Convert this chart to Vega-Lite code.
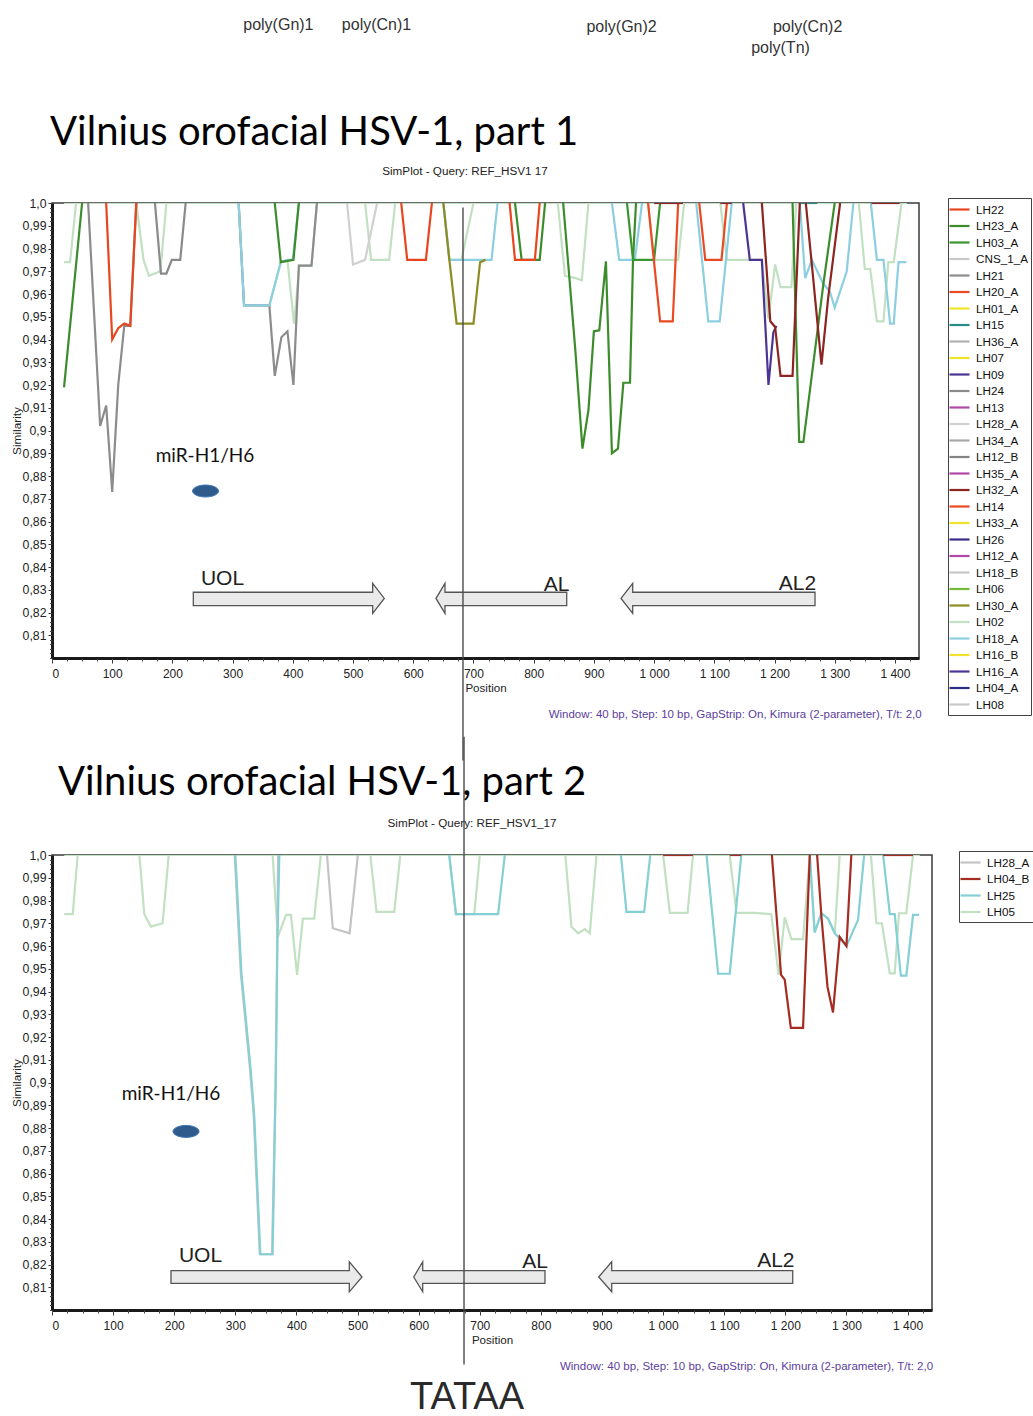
{
  "$schema": "https://vega.github.io/schema/vega-lite/v6.json",
  "background": "white",
  "padding": {"left": 10, "top": 16, "right": 0, "bottom": 0},
  "config": {
    "font": "Liberation Sans, Arial, sans-serif",
    "view": {"stroke": "#3a3a3a", "strokeWidth": 1.5},
    "legend": {
      "orient": "none",
      "title": null,
      "symbolType": "M-1.43,0H1.43",
      "symbolSize": 196,
      "symbolStrokeWidth": 2.2,
      "symbolFillColor": "transparent",
      "symbolLimit": 0,
      "labelFont": "Liberation Sans, Arial, sans-serif",
      "labelFontSize": 11.7,
      "labelColor": "#111",
      "labelOffset": 8,
      "rowPadding": 0.5,
      "padding": 3,
      "strokeColor": "#444",
      "fillColor": "white",
      "labelLimit": 200
    }
  },
  "datasets": {
    "l1": [
      {"s": "LH02", "g": 0, "x": 20, "y": 1}, {"s": "LH02", "g": 0, "x": 1420, "y": 1},
      {"s": "LH02", "g": 1, "x": 20, "y": 0.974}, {"s": "LH02", "g": 1, "x": 30, "y": 0.974}, {"s": "LH02", "g": 1, "x": 40, "y": 1},
      {"s": "LH02", "g": 2, "x": 140, "y": 1}, {"s": "LH02", "g": 2, "x": 152, "y": 0.975}, {"s": "LH02", "g": 2, "x": 161, "y": 0.968}, {"s": "LH02", "g": 2, "x": 180, "y": 0.97}, {"s": "LH02", "g": 2, "x": 190, "y": 1},
      {"s": "LH02", "g": 3, "x": 310, "y": 1}, {"s": "LH02", "g": 3, "x": 319, "y": 0.955}, {"s": "LH02", "g": 3, "x": 361, "y": 0.955}, {"s": "LH02", "g": 3, "x": 380, "y": 0.974}, {"s": "LH02", "g": 3, "x": 391, "y": 0.975}, {"s": "LH02", "g": 3, "x": 402, "y": 0.947}, {"s": "LH02", "g": 3, "x": 411, "y": 0.9725}, {"s": "LH02", "g": 3, "x": 431, "y": 0.9725}, {"s": "LH02", "g": 3, "x": 440, "y": 1},
      {"s": "LH02", "g": 4, "x": 520, "y": 1}, {"s": "LH02", "g": 4, "x": 530, "y": 0.975}, {"s": "LH02", "g": 4, "x": 560, "y": 0.975}, {"s": "LH02", "g": 4, "x": 570, "y": 1},
      {"s": "LH02", "g": 5, "x": 650, "y": 1}, {"s": "LH02", "g": 5, "x": 660, "y": 0.975}, {"s": "LH02", "g": 5, "x": 680, "y": 0.975}, {"s": "LH02", "g": 5, "x": 700, "y": 1},
      {"s": "LH02", "g": 6, "x": 840, "y": 1}, {"s": "LH02", "g": 6, "x": 852, "y": 0.968}, {"s": "LH02", "g": 6, "x": 869, "y": 0.967}, {"s": "LH02", "g": 6, "x": 880, "y": 0.966}, {"s": "LH02", "g": 6, "x": 891, "y": 1},
      {"s": "LH02", "g": 7, "x": 990, "y": 1}, {"s": "LH02", "g": 7, "x": 1000, "y": 0.975}, {"s": "LH02", "g": 7, "x": 1040, "y": 0.975}, {"s": "LH02", "g": 7, "x": 1050, "y": 1},
      {"s": "LH02", "g": 8, "x": 1110, "y": 1}, {"s": "LH02", "g": 8, "x": 1121, "y": 0.975}, {"s": "LH02", "g": 8, "x": 1179, "y": 0.975}, {"s": "LH02", "g": 8, "x": 1190, "y": 0.949}, {"s": "LH02", "g": 8, "x": 1201, "y": 0.973}, {"s": "LH02", "g": 8, "x": 1210, "y": 0.963}, {"s": "LH02", "g": 8, "x": 1228, "y": 0.963}, {"s": "LH02", "g": 8, "x": 1236, "y": 1},
      {"s": "LH02", "g": 9, "x": 1340, "y": 1}, {"s": "LH02", "g": 9, "x": 1350, "y": 0.971}, {"s": "LH02", "g": 9, "x": 1359, "y": 0.971}, {"s": "LH02", "g": 9, "x": 1370, "y": 0.948}, {"s": "LH02", "g": 9, "x": 1381, "y": 0.948}, {"s": "LH02", "g": 9, "x": 1389, "y": 0.974}, {"s": "LH02", "g": 9, "x": 1398, "y": 0.974}, {"s": "LH02", "g": 9, "x": 1411, "y": 1},
      {"s": "LH28_A", "g": 1, "x": 490, "y": 1}, {"s": "LH28_A", "g": 1, "x": 500, "y": 0.973}, {"s": "LH28_A", "g": 1, "x": 520, "y": 0.975}, {"s": "LH28_A", "g": 1, "x": 540, "y": 1},
      {"s": "LH21", "g": 1, "x": 60, "y": 1}, {"s": "LH21", "g": 1, "x": 80, "y": 0.902}, {"s": "LH21", "g": 1, "x": 90, "y": 0.911}, {"s": "LH21", "g": 1, "x": 100, "y": 0.873}, {"s": "LH21", "g": 1, "x": 110, "y": 0.92}, {"s": "LH21", "g": 1, "x": 120, "y": 0.946}, {"s": "LH21", "g": 1, "x": 130, "y": 0.946}, {"s": "LH21", "g": 1, "x": 140, "y": 1},
      {"s": "LH21", "g": 2, "x": 310, "y": 1}, {"s": "LH21", "g": 2, "x": 319, "y": 0.955}, {"s": "LH21", "g": 2, "x": 361, "y": 0.955}, {"s": "LH21", "g": 2, "x": 370, "y": 0.924}, {"s": "LH21", "g": 2, "x": 381, "y": 0.941}, {"s": "LH21", "g": 2, "x": 391, "y": 0.9436}, {"s": "LH21", "g": 2, "x": 401, "y": 0.92}, {"s": "LH21", "g": 2, "x": 410, "y": 0.9725}, {"s": "LH21", "g": 2, "x": 431, "y": 0.9725}, {"s": "LH21", "g": 2, "x": 440, "y": 1},
      {"s": "LH24", "g": 1, "x": 171, "y": 1}, {"s": "LH24", "g": 1, "x": 181, "y": 0.969}, {"s": "LH24", "g": 1, "x": 190, "y": 0.969}, {"s": "LH24", "g": 1, "x": 199, "y": 0.975}, {"s": "LH24", "g": 1, "x": 213, "y": 0.975}, {"s": "LH24", "g": 1, "x": 222, "y": 1},
      {"s": "LH18_A", "g": 1, "x": 310, "y": 1}, {"s": "LH18_A", "g": 1, "x": 319, "y": 0.955}, {"s": "LH18_A", "g": 1, "x": 361, "y": 0.955}, {"s": "LH18_A", "g": 1, "x": 380, "y": 0.974}, {"s": "LH18_A", "g": 1, "x": 391, "y": 0.975}, {"s": "LH18_A", "g": 1, "x": 400, "y": 0.975}, {"s": "LH18_A", "g": 1, "x": 410, "y": 1},
      {"s": "LH18_A", "g": 2, "x": 650, "y": 1}, {"s": "LH18_A", "g": 2, "x": 660, "y": 0.975}, {"s": "LH18_A", "g": 2, "x": 730, "y": 0.975}, {"s": "LH18_A", "g": 2, "x": 740, "y": 1},
      {"s": "LH18_A", "g": 3, "x": 930, "y": 1}, {"s": "LH18_A", "g": 3, "x": 942, "y": 0.975}, {"s": "LH18_A", "g": 3, "x": 968, "y": 0.975}, {"s": "LH18_A", "g": 3, "x": 980, "y": 1},
      {"s": "LH18_A", "g": 4, "x": 1070, "y": 1}, {"s": "LH18_A", "g": 4, "x": 1090, "y": 0.948}, {"s": "LH18_A", "g": 4, "x": 1109, "y": 0.948}, {"s": "LH18_A", "g": 4, "x": 1129, "y": 1},
      {"s": "LH18_A", "g": 5, "x": 1242, "y": 1}, {"s": "LH18_A", "g": 5, "x": 1251, "y": 0.967}, {"s": "LH18_A", "g": 5, "x": 1262, "y": 0.975}, {"s": "LH18_A", "g": 5, "x": 1280, "y": 0.965}, {"s": "LH18_A", "g": 5, "x": 1292, "y": 0.961}, {"s": "LH18_A", "g": 5, "x": 1300, "y": 0.954}, {"s": "LH18_A", "g": 5, "x": 1320, "y": 0.97}, {"s": "LH18_A", "g": 5, "x": 1331, "y": 1},
      {"s": "LH18_A", "g": 6, "x": 1360, "y": 1}, {"s": "LH18_A", "g": 6, "x": 1370, "y": 0.975}, {"s": "LH18_A", "g": 6, "x": 1381, "y": 0.975}, {"s": "LH18_A", "g": 6, "x": 1392, "y": 0.947}, {"s": "LH18_A", "g": 6, "x": 1398, "y": 0.947}, {"s": "LH18_A", "g": 6, "x": 1406, "y": 0.974}, {"s": "LH18_A", "g": 6, "x": 1419, "y": 0.974},
      {"s": "LH30_A", "g": 1, "x": 650, "y": 1}, {"s": "LH30_A", "g": 1, "x": 660, "y": 0.975}, {"s": "LH30_A", "g": 1, "x": 672, "y": 0.947}, {"s": "LH30_A", "g": 1, "x": 700, "y": 0.947}, {"s": "LH30_A", "g": 1, "x": 711, "y": 0.974}, {"s": "LH30_A", "g": 1, "x": 720, "y": 0.975},
      {"s": "LH23_A", "g": 1, "x": 20, "y": 0.919}, {"s": "LH23_A", "g": 1, "x": 50, "y": 1},
      {"s": "LH23_A", "g": 2, "x": 370, "y": 1}, {"s": "LH23_A", "g": 2, "x": 380, "y": 0.974}, {"s": "LH23_A", "g": 2, "x": 401, "y": 0.975}, {"s": "LH23_A", "g": 2, "x": 410, "y": 1},
      {"s": "LH23_A", "g": 3, "x": 769, "y": 1}, {"s": "LH23_A", "g": 3, "x": 780, "y": 0.975}, {"s": "LH23_A", "g": 3, "x": 810, "y": 0.975}, {"s": "LH23_A", "g": 3, "x": 819, "y": 1},
      {"s": "LH23_A", "g": 4, "x": 849, "y": 1}, {"s": "LH23_A", "g": 4, "x": 869, "y": 0.936}, {"s": "LH23_A", "g": 4, "x": 881, "y": 0.892}, {"s": "LH23_A", "g": 4, "x": 891, "y": 0.909}, {"s": "LH23_A", "g": 4, "x": 900, "y": 0.9436}, {"s": "LH23_A", "g": 4, "x": 909, "y": 0.944}, {"s": "LH23_A", "g": 4, "x": 920, "y": 0.9744}, {"s": "LH23_A", "g": 4, "x": 930, "y": 0.89}, {"s": "LH23_A", "g": 4, "x": 940, "y": 0.892}, {"s": "LH23_A", "g": 4, "x": 949, "y": 0.921}, {"s": "LH23_A", "g": 4, "x": 960, "y": 0.921}, {"s": "LH23_A", "g": 4, "x": 965, "y": 0.975}, {"s": "LH23_A", "g": 4, "x": 970, "y": 1},
      {"s": "LH23_A", "g": 5, "x": 1230, "y": 1}, {"s": "LH23_A", "g": 5, "x": 1241, "y": 0.895}, {"s": "LH23_A", "g": 5, "x": 1248, "y": 0.895}, {"s": "LH23_A", "g": 5, "x": 1281, "y": 0.964}, {"s": "LH23_A", "g": 5, "x": 1300, "y": 1},
      {"s": "LH03_A", "g": 1, "x": 955, "y": 1}, {"s": "LH03_A", "g": 1, "x": 965, "y": 0.975}, {"s": "LH03_A", "g": 1, "x": 1000, "y": 0.975}, {"s": "LH03_A", "g": 1, "x": 1010, "y": 1},
      {"s": "LH22", "g": 1, "x": 90, "y": 1}, {"s": "LH22", "g": 1, "x": 100, "y": 0.94}, {"s": "LH22", "g": 1, "x": 110, "y": 0.945}, {"s": "LH22", "g": 1, "x": 120, "y": 0.947}, {"s": "LH22", "g": 1, "x": 130, "y": 0.946}, {"s": "LH22", "g": 1, "x": 140, "y": 1},
      {"s": "LH22", "g": 2, "x": 580, "y": 1}, {"s": "LH22", "g": 2, "x": 590, "y": 0.975}, {"s": "LH22", "g": 2, "x": 621, "y": 0.975}, {"s": "LH22", "g": 2, "x": 631, "y": 1},
      {"s": "LH22", "g": 3, "x": 760, "y": 1}, {"s": "LH22", "g": 3, "x": 769, "y": 0.975}, {"s": "LH22", "g": 3, "x": 802, "y": 0.975}, {"s": "LH22", "g": 3, "x": 810, "y": 1},
      {"s": "LH20_A", "g": 1, "x": 990, "y": 1}, {"s": "LH20_A", "g": 1, "x": 1010, "y": 0.948}, {"s": "LH20_A", "g": 1, "x": 1031, "y": 0.948}, {"s": "LH20_A", "g": 1, "x": 1040, "y": 1},
      {"s": "LH20_A", "g": 2, "x": 1075, "y": 1}, {"s": "LH20_A", "g": 2, "x": 1085, "y": 0.975}, {"s": "LH20_A", "g": 2, "x": 1112, "y": 0.975}, {"s": "LH20_A", "g": 2, "x": 1121, "y": 1},
      {"s": "LH15", "g": 1, "x": 1242, "y": 1}, {"s": "LH15", "g": 1, "x": 1271, "y": 1},
      {"s": "LH09", "g": 1, "x": 1148, "y": 1}, {"s": "LH09", "g": 1, "x": 1159, "y": 0.975}, {"s": "LH09", "g": 1, "x": 1179, "y": 0.975}, {"s": "LH09", "g": 1, "x": 1190, "y": 0.92}, {"s": "LH09", "g": 1, "x": 1198, "y": 0.943}, {"s": "LH09", "g": 1, "x": 1203, "y": 0.946},
      {"s": "LH32_A", "g": 1, "x": 1000, "y": 1}, {"s": "LH32_A", "g": 1, "x": 1048, "y": 1},
      {"s": "LH32_A", "g": 2, "x": 1110, "y": 1}, {"s": "LH32_A", "g": 2, "x": 1129, "y": 1},
      {"s": "LH32_A", "g": 3, "x": 1179, "y": 1}, {"s": "LH32_A", "g": 3, "x": 1193, "y": 0.948}, {"s": "LH32_A", "g": 3, "x": 1201, "y": 0.9455}, {"s": "LH32_A", "g": 3, "x": 1210, "y": 0.924}, {"s": "LH32_A", "g": 3, "x": 1230, "y": 0.924}, {"s": "LH32_A", "g": 3, "x": 1242, "y": 1},
      {"s": "LH32_A", "g": 4, "x": 1252, "y": 1}, {"s": "LH32_A", "g": 4, "x": 1262, "y": 0.973}, {"s": "LH32_A", "g": 4, "x": 1278, "y": 0.929}, {"s": "LH32_A", "g": 4, "x": 1289, "y": 0.958}, {"s": "LH32_A", "g": 4, "x": 1309, "y": 1},
      {"s": "LH32_A", "g": 5, "x": 1361, "y": 1}, {"s": "LH32_A", "g": 5, "x": 1408, "y": 1}
    ],
    "l2": [
      {"s": "LH05", "g": 0, "x": 20, "y": 1}, {"s": "LH05", "g": 0, "x": 1420, "y": 1},
      {"s": "LH05", "g": 1, "x": 20, "y": 0.974}, {"s": "LH05", "g": 1, "x": 34, "y": 0.974}, {"s": "LH05", "g": 1, "x": 42, "y": 1},
      {"s": "LH05", "g": 2, "x": 143, "y": 1}, {"s": "LH05", "g": 2, "x": 151, "y": 0.974}, {"s": "LH05", "g": 2, "x": 162, "y": 0.9685}, {"s": "LH05", "g": 2, "x": 181, "y": 0.97}, {"s": "LH05", "g": 2, "x": 191, "y": 1},
      {"s": "LH05", "g": 3, "x": 361, "y": 1}, {"s": "LH05", "g": 3, "x": 369.5, "y": 0.964}, {"s": "LH05", "g": 3, "x": 383, "y": 0.9737}, {"s": "LH05", "g": 3, "x": 391, "y": 0.9737}, {"s": "LH05", "g": 3, "x": 401, "y": 0.9473}, {"s": "LH05", "g": 3, "x": 410.5, "y": 0.972}, {"s": "LH05", "g": 3, "x": 429, "y": 0.972}, {"s": "LH05", "g": 3, "x": 440, "y": 1},
      {"s": "LH05", "g": 4, "x": 521, "y": 1}, {"s": "LH05", "g": 4, "x": 531, "y": 0.975}, {"s": "LH05", "g": 4, "x": 560, "y": 0.975}, {"s": "LH05", "g": 4, "x": 570, "y": 1},
      {"s": "LH05", "g": 5, "x": 650, "y": 1}, {"s": "LH05", "g": 5, "x": 661, "y": 0.974}, {"s": "LH05", "g": 5, "x": 691, "y": 0.974}, {"s": "LH05", "g": 5, "x": 700, "y": 1},
      {"s": "LH05", "g": 6, "x": 840, "y": 1}, {"s": "LH05", "g": 6, "x": 850, "y": 0.9685}, {"s": "LH05", "g": 6, "x": 861, "y": 0.9656}, {"s": "LH05", "g": 6, "x": 872, "y": 0.9674}, {"s": "LH05", "g": 6, "x": 880, "y": 0.9656}, {"s": "LH05", "g": 6, "x": 891, "y": 1},
      {"s": "LH05", "g": 7, "x": 1000, "y": 1}, {"s": "LH05", "g": 7, "x": 1011, "y": 0.9746}, {"s": "LH05", "g": 7, "x": 1040, "y": 0.9746}, {"s": "LH05", "g": 7, "x": 1049, "y": 1},
      {"s": "LH05", "g": 8, "x": 1109, "y": 1}, {"s": "LH05", "g": 8, "x": 1120, "y": 0.9746}, {"s": "LH05", "g": 8, "x": 1150, "y": 0.9746}, {"s": "LH05", "g": 8, "x": 1177, "y": 0.974}, {"s": "LH05", "g": 8, "x": 1189, "y": 0.9473}, {"s": "LH05", "g": 8, "x": 1199, "y": 0.9726}, {"s": "LH05", "g": 8, "x": 1210, "y": 0.963}, {"s": "LH05", "g": 8, "x": 1229, "y": 0.963}, {"s": "LH05", "g": 8, "x": 1240, "y": 1},
      {"s": "LH05", "g": 9, "x": 1240, "y": 1}, {"s": "LH05", "g": 9, "x": 1248, "y": 0.966}, {"s": "LH05", "g": 9, "x": 1259, "y": 0.9744}, {"s": "LH05", "g": 9, "x": 1270, "y": 0.972}, {"s": "LH05", "g": 9, "x": 1281, "y": 0.9656}, {"s": "LH05", "g": 9, "x": 1289, "y": 1},
      {"s": "LH05", "g": 10, "x": 1340, "y": 1}, {"s": "LH05", "g": 10, "x": 1349, "y": 0.97}, {"s": "LH05", "g": 10, "x": 1358, "y": 0.97}, {"s": "LH05", "g": 10, "x": 1371, "y": 0.948}, {"s": "LH05", "g": 10, "x": 1379, "y": 0.948}, {"s": "LH05", "g": 10, "x": 1386, "y": 0.9744}, {"s": "LH05", "g": 10, "x": 1398, "y": 0.9744}, {"s": "LH05", "g": 10, "x": 1409, "y": 1},
      {"s": "LH28_A", "g": 1, "x": 299, "y": 1}, {"s": "LH28_A", "g": 1, "x": 309, "y": 0.948}, {"s": "LH28_A", "g": 1, "x": 324, "y": 0.906}, {"s": "LH28_A", "g": 1, "x": 330, "y": 0.886}, {"s": "LH28_A", "g": 1, "x": 340, "y": 0.8245}, {"s": "LH28_A", "g": 1, "x": 360, "y": 0.8245}, {"s": "LH28_A", "g": 1, "x": 366, "y": 0.9}, {"s": "LH28_A", "g": 1, "x": 370, "y": 1},
      {"s": "LH28_A", "g": 2, "x": 450, "y": 1}, {"s": "LH28_A", "g": 2, "x": 459.5, "y": 0.9678}, {"s": "LH28_A", "g": 2, "x": 487, "y": 0.9656}, {"s": "LH28_A", "g": 2, "x": 500.5, "y": 1},
      {"s": "LH25", "g": 1, "x": 300, "y": 1}, {"s": "LH25", "g": 1, "x": 310, "y": 0.948}, {"s": "LH25", "g": 1, "x": 325, "y": 0.906}, {"s": "LH25", "g": 1, "x": 331, "y": 0.885}, {"s": "LH25", "g": 1, "x": 341, "y": 0.8245}, {"s": "LH25", "g": 1, "x": 361, "y": 0.8245}, {"s": "LH25", "g": 1, "x": 366, "y": 0.9}, {"s": "LH25", "g": 1, "x": 369, "y": 0.964}, {"s": "LH25", "g": 1, "x": 372, "y": 1},
      {"s": "LH25", "g": 2, "x": 650, "y": 1}, {"s": "LH25", "g": 2, "x": 661, "y": 0.974}, {"s": "LH25", "g": 2, "x": 730, "y": 0.974}, {"s": "LH25", "g": 2, "x": 741, "y": 1},
      {"s": "LH25", "g": 3, "x": 931, "y": 1}, {"s": "LH25", "g": 3, "x": 940, "y": 0.975}, {"s": "LH25", "g": 3, "x": 969, "y": 0.975}, {"s": "LH25", "g": 3, "x": 979, "y": 1},
      {"s": "LH25", "g": 4, "x": 1071, "y": 1}, {"s": "LH25", "g": 4, "x": 1090, "y": 0.9478}, {"s": "LH25", "g": 4, "x": 1109, "y": 0.9478}, {"s": "LH25", "g": 4, "x": 1128, "y": 1},
      {"s": "LH25", "g": 5, "x": 1240, "y": 1}, {"s": "LH25", "g": 5, "x": 1248, "y": 0.966}, {"s": "LH25", "g": 5, "x": 1259, "y": 0.9744}, {"s": "LH25", "g": 5, "x": 1270, "y": 0.972}, {"s": "LH25", "g": 5, "x": 1281, "y": 0.9656}, {"s": "LH25", "g": 5, "x": 1300, "y": 0.96}, {"s": "LH25", "g": 5, "x": 1319, "y": 0.9715}, {"s": "LH25", "g": 5, "x": 1329, "y": 1},
      {"s": "LH25", "g": 6, "x": 1360, "y": 1}, {"s": "LH25", "g": 6, "x": 1371, "y": 0.974}, {"s": "LH25", "g": 6, "x": 1379, "y": 0.974}, {"s": "LH25", "g": 6, "x": 1389, "y": 0.947}, {"s": "LH25", "g": 6, "x": 1398, "y": 0.947}, {"s": "LH25", "g": 6, "x": 1409, "y": 0.9737}, {"s": "LH25", "g": 6, "x": 1419, "y": 0.9737},
      {"s": "LH04_B", "g": 1, "x": 1000, "y": 1}, {"s": "LH04_B", "g": 1, "x": 1049, "y": 1},
      {"s": "LH04_B", "g": 2, "x": 1109, "y": 1}, {"s": "LH04_B", "g": 2, "x": 1128, "y": 1},
      {"s": "LH04_B", "g": 3, "x": 1178, "y": 1}, {"s": "LH04_B", "g": 3, "x": 1193, "y": 0.9473}, {"s": "LH04_B", "g": 3, "x": 1199, "y": 0.9452}, {"s": "LH04_B", "g": 3, "x": 1209, "y": 0.924}, {"s": "LH04_B", "g": 3, "x": 1229, "y": 0.924}, {"s": "LH04_B", "g": 3, "x": 1240, "y": 1},
      {"s": "LH04_B", "g": 4, "x": 1252, "y": 1}, {"s": "LH04_B", "g": 4, "x": 1259, "y": 0.9732}, {"s": "LH04_B", "g": 4, "x": 1269, "y": 0.942}, {"s": "LH04_B", "g": 4, "x": 1278, "y": 0.9308}, {"s": "LH04_B", "g": 4, "x": 1289, "y": 0.964}, {"s": "LH04_B", "g": 4, "x": 1300, "y": 0.96}, {"s": "LH04_B", "g": 4, "x": 1308, "y": 1},
      {"s": "LH04_B", "g": 5, "x": 1360, "y": 1}, {"s": "LH04_B", "g": 5, "x": 1409, "y": 1}
    ],
    "arrows1": [
      {"a": "UOL", "x": 234.7, "y": 0.8289, "y2": 0.823}, {"a": "UOL", "x": 532.6, "y": 0.8289, "y2": 0.823}, {"a": "UOL", "x": 532.61, "y": 0.8328, "y2": 0.8196}, {"a": "UOL", "x": 551.9, "y": 0.8262, "y2": 0.8262},
      {"a": "AL", "x": 637.8, "y": 0.8262, "y2": 0.8262}, {"a": "AL", "x": 652.7, "y": 0.8328, "y2": 0.8196}, {"a": "AL", "x": 652.71, "y": 0.8289, "y2": 0.823}, {"a": "AL", "x": 854.9, "y": 0.8289, "y2": 0.823},
      {"a": "AL2", "x": 945.1, "y": 0.8262, "y2": 0.8262}, {"a": "AL2", "x": 964.5, "y": 0.8328, "y2": 0.8196}, {"a": "AL2", "x": 964.51, "y": 0.8289, "y2": 0.823}, {"a": "AL2", "x": 1267.3, "y": 0.8289, "y2": 0.823}
    ],
    "arrows2": [
      {"a": "UOL", "x": 194.7, "y": 0.8173, "y2": 0.8117}, {"a": "UOL", "x": 486.5, "y": 0.8173, "y2": 0.8117}, {"a": "UOL", "x": 486.51, "y": 0.8212, "y2": 0.808}, {"a": "UOL", "x": 507.3, "y": 0.8145, "y2": 0.8145},
      {"a": "AL", "x": 591.9, "y": 0.8145, "y2": 0.8145}, {"a": "AL", "x": 606.6, "y": 0.8212, "y2": 0.808}, {"a": "AL", "x": 606.61, "y": 0.8173, "y2": 0.8117}, {"a": "AL", "x": 806.7, "y": 0.8173, "y2": 0.8117},
      {"a": "AL2", "x": 894.6, "y": 0.8145, "y2": 0.8145}, {"a": "AL2", "x": 915.9, "y": 0.8212, "y2": 0.808}, {"a": "AL2", "x": 915.91, "y": 0.8173, "y2": 0.8117}, {"a": "AL2", "x": 1212.1, "y": 0.8173, "y2": 0.8117}
    ]
  },
  "bounds": "flush",
  "spacing": 197,
  "resolve": {"scale": {"color": "independent"}, "legend": {"color": "independent"}},
  "vconcat": [
    {
      "width": 867,
      "height": 455,
      "resolve": {"axis": {"x": "independent", "y": "independent"}},
      "layer": [
        {
          "data": {"name": "l1"},
          "mark": {"type": "line", "strokeWidth": 2.2, "clip": true},
          "encoding": {
            "x": {"field": "x", "type": "quantitative", "scale": {"domain": [0, 1440], "nice": false, "zero": false},
              "axis": {"orient": "bottom", "values": [0, 100, 200, 300, 400, 500, 600, 700, 800, 900, 1000, 1100, 1200, 1300, 1400],
                "labelExpr": "replace(format(datum.value, ','), ',', ' ')", "labelFontSize": 12, "labelColor": "#222",
                "tickSize": 5, "tickColor": "#333", "labelPadding": 5, "domainColor": "#1a1a1a", "domainWidth": 3, "grid": false,
                "title": "Position", "titleFontSize": 11.6, "titleFontWeight": "normal", "titleColor": "#222", "titlePadding": 3}},
            "y": {"field": "y", "type": "quantitative", "scale": {"domain": [0.8, 1], "nice": false, "zero": false},
              "axis": {"orient": "left", "values": [0.81, 0.82, 0.83, 0.84, 0.85, 0.86, 0.87, 0.88, 0.89, 0.9, 0.91, 0.92, 0.93, 0.94, 0.95, 0.96, 0.97, 0.98, 0.99, 1],
                "labelExpr": "datum.value > 0.9999 ? '1,0' : replace(format(datum.value, '.2~f'), '.', ',')", "labelFontSize": 12.3, "labelColor": "#222",
                "tickSize": 4, "tickColor": "#333", "labelPadding": 2, "domainColor": "#1a1a1a", "domainWidth": 3, "grid": false,
                "title": "Similarity", "titleFontSize": 11.8, "titleFontWeight": "normal", "titleColor": "#222", "titlePadding": 0}},
            "color": {"field": "s", "type": "nominal",
              "scale": {"domain": ["LH22", "LH23_A", "LH03_A", "CNS_1_A", "LH21", "LH20_A", "LH01_A", "LH15", "LH36_A", "LH07", "LH09", "LH24", "LH13", "LH28_A", "LH34_A", "LH12_B", "LH35_A", "LH32_A", "LH14", "LH33_A", "LH26", "LH12_A", "LH18_B", "LH06", "LH30_A", "LH02", "LH18_A", "LH16_B", "LH16_A", "LH04_A", "LH08"],
                "range": ["#e8461e", "#3c8c2c", "#3a962e", "#c8c8c8", "#8c8c8c", "#ea4a22", "#f2e22a", "#2a8c84", "#b0b0b0", "#f2e22a", "#4c3494", "#8a8a8a", "#b048a8", "#d0d0d0", "#a8a8a8", "#858585", "#b048a8", "#8c2420", "#ea4a22", "#f2e22a", "#3a2c8c", "#b048a8", "#c8c8c8", "#72bc3a", "#8c8c22", "#c2e0c2", "#8ccfe0", "#f2e22a", "#4c3494", "#2c2c84", "#c8c8c8"]},
              "legend": {"legendX": 896, "legendY": -5, "values": ["LH22", "LH23_A", "LH03_A", "CNS_1_A", "LH21", "LH20_A", "LH01_A", "LH15", "LH36_A", "LH07", "LH09", "LH24", "LH13", "LH28_A", "LH34_A", "LH12_B", "LH35_A", "LH32_A", "LH14", "LH33_A", "LH26", "LH12_A", "LH18_B", "LH06", "LH30_A", "LH02", "LH18_A", "LH16_B", "LH16_A", "LH04_A", "LH08"]}},
            "detail": {"field": "g", "type": "nominal"}
          }
        },
        {
          "data": {"name": "l1"},
          "mark": {"type": "point", "opacity": 0, "size": 1},
          "encoding": {
            "x": {"field": "x", "type": "quantitative", "scale": {"domain": [0, 1440], "nice": false, "zero": false},
              "axis": {"orient": "bottom", "values": [0, 25, 50, 75, 100, 125, 150, 175, 200, 225, 250, 275, 300, 325, 350, 375, 400, 425, 450, 475, 500, 525, 550, 575, 600, 625, 650, 675, 700, 725, 750, 775, 800, 825, 850, 875, 900, 925, 950, 975, 1000, 1025, 1050, 1075, 1100, 1125, 1150, 1175, 1200, 1225, 1250, 1275, 1300, 1325, 1350, 1375, 1400, 1425],
                "labels": false, "domain": false, "grid": false, "title": null, "tickSize": 3, "tickColor": "#444"}},
            "y": {"field": "y", "type": "quantitative", "scale": {"domain": [0.8, 1], "nice": false, "zero": false},
              "axis": {"orient": "left", "tickCount": 100, "labels": false, "domain": false, "grid": false, "title": null, "tickSize": 2.5, "tickColor": "#444"}}
          }
        },
        {
          "data": {"name": "arrows1"},
          "mark": {"type": "area", "fill": "#e9eae9", "stroke": "#555", "strokeWidth": 1.3, "fillOpacity": 1},
          "encoding": {
            "x": {"field": "x", "type": "quantitative", "scale": {"domain": [0, 1440], "nice": false, "zero": false}, "axis": null},
            "y": {"field": "y", "type": "quantitative", "scale": {"domain": [0.8, 1], "nice": false, "zero": false}, "axis": null},
            "y2": {"field": "y2"},
            "detail": {"field": "a", "type": "nominal"}
          }
        },
        {
          "data": {"values": [{"t": "UOL", "x": 283.2, "y": 0.8321}, {"t": "AL", "x": 837.9, "y": 0.8295}, {"t": "AL2", "x": 1238.2, "y": 0.8299}]},
          "mark": {"type": "text", "fontSize": 21, "color": "#222", "baseline": "alphabetic", "align": "center"},
          "encoding": {
            "x": {"field": "x", "type": "quantitative", "scale": {"domain": [0, 1440], "nice": false, "zero": false}, "axis": null},
            "y": {"field": "y", "type": "quantitative", "scale": {"domain": [0.8, 1], "nice": false, "zero": false}, "axis": null},
            "text": {"field": "t"}
          }
        },
        {
          "data": {"values": [{"t": "miR-H1/H6", "x": 254.1, "y": 0.8888}]},
          "mark": {"type": "text", "font": "Lato", "fontSize": 19, "color": "#111", "baseline": "middle", "align": "center"},
          "encoding": {
            "x": {"field": "x", "type": "quantitative", "scale": {"domain": [0, 1440], "nice": false, "zero": false}, "axis": null},
            "y": {"field": "y", "type": "quantitative", "scale": {"domain": [0.8, 1], "nice": false, "zero": false}, "axis": null},
            "text": {"field": "t"}
          }
        },
        {
          "data": {"values": [{"x": 255, "y": 0.8734}]},
          "mark": {"type": "point", "shape": "M-1,0A1,0.46,0,1,0,1,0A1,0.46,0,1,0,-1,0Z", "size": 676, "filled": true, "fill": "#2f5a8c", "stroke": "#3f78b4", "strokeWidth": 1, "opacity": 1},
          "encoding": {
            "x": {"field": "x", "type": "quantitative", "scale": {"domain": [0, 1440], "nice": false, "zero": false}, "axis": null},
            "y": {"field": "y", "type": "quantitative", "scale": {"domain": [0.8, 1], "nice": false, "zero": false}, "axis": null}
          }
        },
        {
          "data": {"values": [{"x": 682.6, "y": 0.998, "y2": 0.755}]},
          "mark": {"type": "rule", "color": "#4a4a4a", "strokeWidth": 1.4},
          "encoding": {
            "x": {"field": "x", "type": "quantitative", "scale": {"domain": [0, 1440], "nice": false, "zero": false}, "axis": null},
            "y": {"field": "y", "type": "quantitative", "scale": {"domain": [0.8, 1], "nice": false, "zero": false}, "axis": null},
            "y2": {"field": "y2"}
          }
        },
        {
          "data": {"values": [{"t": "poly(Gn)1", "x": 376, "y": 1.0782}, {"t": "poly(Cn)1", "x": 539, "y": 1.0782}, {"t": "poly(Gn)2", "x": 946, "y": 1.0775}, {"t": "poly(Cn)2", "x": 1255, "y": 1.0775}, {"t": "poly(Tn)", "x": 1210, "y": 1.0681}]},
          "mark": {"type": "text", "fontSize": 16, "color": "#333", "baseline": "middle", "align": "center"},
          "encoding": {
            "x": {"field": "x", "type": "quantitative", "scale": {"domain": [0, 1440], "nice": false, "zero": false}, "axis": null},
            "y": {"field": "y", "type": "quantitative", "scale": {"domain": [0.8, 1], "nice": false, "zero": false}, "axis": null},
            "text": {"field": "t"}
          }
        },
        {
          "data": {"values": [{"t": "Vilnius orofacial HSV-1, part 1", "x": -3.3, "y": 1.0255}]},
          "mark": {"type": "text", "font": "Lato", "fontSize": 40, "color": "#000", "baseline": "alphabetic", "align": "left"},
          "encoding": {
            "x": {"field": "x", "type": "quantitative", "scale": {"domain": [0, 1440], "nice": false, "zero": false}, "axis": null},
            "y": {"field": "y", "type": "quantitative", "scale": {"domain": [0.8, 1], "nice": false, "zero": false}, "axis": null},
            "text": {"field": "t"}
          }
        },
        {
          "data": {"values": [{"t": "SimPlot - Query: REF_HSV1  17", "x": 686, "y": 1.0141}]},
          "mark": {"type": "text", "fontSize": 11.7, "color": "#222", "baseline": "middle", "align": "center"},
          "encoding": {
            "x": {"field": "x", "type": "quantitative", "scale": {"domain": [0, 1440], "nice": false, "zero": false}, "axis": null},
            "y": {"field": "y", "type": "quantitative", "scale": {"domain": [0.8, 1], "nice": false, "zero": false}, "axis": null},
            "text": {"field": "t"}
          }
        },
        {
          "data": {"values": [{"t": "Window: 40 bp, Step: 10 bp, GapStrip: On, Kimura (2-parameter), T/t: 2,0", "x": 1444.5, "y": 0.775}]},
          "mark": {"type": "text", "fontSize": 11.5, "color": "#5b3e9e", "baseline": "middle", "align": "right"},
          "encoding": {
            "x": {"field": "x", "type": "quantitative", "scale": {"domain": [0, 1440], "nice": false, "zero": false}, "axis": null},
            "y": {"field": "y", "type": "quantitative", "scale": {"domain": [0.8, 1], "nice": false, "zero": false}, "axis": null},
            "text": {"field": "t"}
          }
        }
      ]
    },
    {
      "width": 880,
      "height": 455,
      "resolve": {"axis": {"x": "independent", "y": "independent"}},
      "layer": [
        {
          "data": {"name": "l2"},
          "mark": {"type": "line", "strokeWidth": 2.2, "clip": true},
          "encoding": {
            "x": {"field": "x", "type": "quantitative", "scale": {"domain": [0, 1440], "nice": false, "zero": false},
              "axis": {"orient": "bottom", "values": [0, 100, 200, 300, 400, 500, 600, 700, 800, 900, 1000, 1100, 1200, 1300, 1400],
                "labelExpr": "replace(format(datum.value, ','), ',', ' ')", "labelFontSize": 12, "labelColor": "#222",
                "tickSize": 5, "tickColor": "#333", "labelPadding": 5, "domainColor": "#1a1a1a", "domainWidth": 3, "grid": false,
                "title": "Position", "titleFontSize": 11.6, "titleFontWeight": "normal", "titleColor": "#222", "titlePadding": 3}},
            "y": {"field": "y", "type": "quantitative", "scale": {"domain": [0.8, 1], "nice": false, "zero": false},
              "axis": {"orient": "left", "values": [0.81, 0.82, 0.83, 0.84, 0.85, 0.86, 0.87, 0.88, 0.89, 0.9, 0.91, 0.92, 0.93, 0.94, 0.95, 0.96, 0.97, 0.98, 0.99, 1],
                "labelExpr": "datum.value > 0.9999 ? '1,0' : replace(format(datum.value, '.2~f'), '.', ',')", "labelFontSize": 12.3, "labelColor": "#222",
                "tickSize": 4, "tickColor": "#333", "labelPadding": 2, "domainColor": "#1a1a1a", "domainWidth": 3, "grid": false,
                "title": "Similarity", "titleFontSize": 11.8, "titleFontWeight": "normal", "titleColor": "#222", "titlePadding": 0}},
            "color": {"field": "s", "type": "nominal",
              "scale": {"domain": ["LH28_A", "LH04_B", "LH25", "LH05"], "range": ["#c4c4c4", "#a42c22", "#84d0d4", "#c2e0c2"]},
              "legend": {"legendX": 907, "legendY": -4, "values": ["LH28_A", "LH04_B", "LH25", "LH05"]}},
            "detail": {"field": "g", "type": "nominal"}
          }
        },
        {
          "data": {"name": "l2"},
          "mark": {"type": "point", "opacity": 0, "size": 1},
          "encoding": {
            "x": {"field": "x", "type": "quantitative", "scale": {"domain": [0, 1440], "nice": false, "zero": false},
              "axis": {"orient": "bottom", "values": [0, 25, 50, 75, 100, 125, 150, 175, 200, 225, 250, 275, 300, 325, 350, 375, 400, 425, 450, 475, 500, 525, 550, 575, 600, 625, 650, 675, 700, 725, 750, 775, 800, 825, 850, 875, 900, 925, 950, 975, 1000, 1025, 1050, 1075, 1100, 1125, 1150, 1175, 1200, 1225, 1250, 1275, 1300, 1325, 1350, 1375, 1400, 1425],
                "labels": false, "domain": false, "grid": false, "title": null, "tickSize": 3, "tickColor": "#444"}},
            "y": {"field": "y", "type": "quantitative", "scale": {"domain": [0.8, 1], "nice": false, "zero": false},
              "axis": {"orient": "left", "tickCount": 100, "labels": false, "domain": false, "grid": false, "title": null, "tickSize": 2.5, "tickColor": "#444"}}
          }
        },
        {
          "data": {"name": "arrows2"},
          "mark": {"type": "area", "fill": "#e9eae9", "stroke": "#555", "strokeWidth": 1.3, "fillOpacity": 1},
          "encoding": {
            "x": {"field": "x", "type": "quantitative", "scale": {"domain": [0, 1440], "nice": false, "zero": false}, "axis": null},
            "y": {"field": "y", "type": "quantitative", "scale": {"domain": [0.8, 1], "nice": false, "zero": false}, "axis": null},
            "y2": {"field": "y2"},
            "detail": {"field": "a", "type": "nominal"}
          }
        },
        {
          "data": {"values": [{"t": "UOL", "x": 243, "y": 0.821}, {"t": "AL", "x": 790.4, "y": 0.8183}, {"t": "AL2", "x": 1184.5, "y": 0.819}]},
          "mark": {"type": "text", "fontSize": 21, "color": "#222", "baseline": "alphabetic", "align": "center"},
          "encoding": {
            "x": {"field": "x", "type": "quantitative", "scale": {"domain": [0, 1440], "nice": false, "zero": false}, "axis": null},
            "y": {"field": "y", "type": "quantitative", "scale": {"domain": [0.8, 1], "nice": false, "zero": false}, "axis": null},
            "text": {"field": "t"}
          }
        },
        {
          "data": {"values": [{"t": "miR-H1/H6", "x": 194.7, "y": 0.8949}]},
          "mark": {"type": "text", "font": "Lato", "fontSize": 19, "color": "#111", "baseline": "middle", "align": "center"},
          "encoding": {
            "x": {"field": "x", "type": "quantitative", "scale": {"domain": [0, 1440], "nice": false, "zero": false}, "axis": null},
            "y": {"field": "y", "type": "quantitative", "scale": {"domain": [0.8, 1], "nice": false, "zero": false}, "axis": null},
            "text": {"field": "t"}
          }
        },
        {
          "data": {"values": [{"x": 219.3, "y": 0.8785}]},
          "mark": {"type": "point", "shape": "M-1,0A1,0.46,0,1,0,1,0A1,0.46,0,1,0,-1,0Z", "size": 676, "filled": true, "fill": "#2f5a8c", "stroke": "#3f78b4", "strokeWidth": 1, "opacity": 1},
          "encoding": {
            "x": {"field": "x", "type": "quantitative", "scale": {"domain": [0, 1440], "nice": false, "zero": false}, "axis": null},
            "y": {"field": "y", "type": "quantitative", "scale": {"domain": [0.8, 1], "nice": false, "zero": false}, "axis": null}
          }
        },
        {
          "data": {"values": [{"x": 674.2, "y": 1.052, "y2": 0.776}]},
          "mark": {"type": "rule", "color": "#4a4a4a", "strokeWidth": 1.4},
          "encoding": {
            "x": {"field": "x", "type": "quantitative", "scale": {"domain": [0, 1440], "nice": false, "zero": false}, "axis": null},
            "y": {"field": "y", "type": "quantitative", "scale": {"domain": [0.8, 1], "nice": false, "zero": false}, "axis": null},
            "y2": {"field": "y2"}
          }
        },
        {
          "data": {"values": [{"t": "Vilnius orofacial HSV-1, part 2", "x": 9.8, "y": 1.0265}]},
          "mark": {"type": "text", "font": "Lato", "fontSize": 40, "color": "#000", "baseline": "alphabetic", "align": "left"},
          "encoding": {
            "x": {"field": "x", "type": "quantitative", "scale": {"domain": [0, 1440], "nice": false, "zero": false}, "axis": null},
            "y": {"field": "y", "type": "quantitative", "scale": {"domain": [0.8, 1], "nice": false, "zero": false}, "axis": null},
            "text": {"field": "t"}
          }
        },
        {
          "data": {"values": [{"t": "SimPlot - Query: REF_HSV1_17", "x": 687.3, "y": 1.0141}]},
          "mark": {"type": "text", "fontSize": 11.7, "color": "#222", "baseline": "middle", "align": "center"},
          "encoding": {
            "x": {"field": "x", "type": "quantitative", "scale": {"domain": [0, 1440], "nice": false, "zero": false}, "axis": null},
            "y": {"field": "y", "type": "quantitative", "scale": {"domain": [0.8, 1], "nice": false, "zero": false}, "axis": null},
            "text": {"field": "t"}
          }
        },
        {
          "data": {"values": [{"t": "Window: 40 bp, Step: 10 bp, GapStrip: On, Kimura (2-parameter), T/t: 2,0", "x": 1441.7, "y": 0.7748}]},
          "mark": {"type": "text", "fontSize": 11.5, "color": "#5b3e9e", "baseline": "middle", "align": "right"},
          "encoding": {
            "x": {"field": "x", "type": "quantitative", "scale": {"domain": [0, 1440], "nice": false, "zero": false}, "axis": null},
            "y": {"field": "y", "type": "quantitative", "scale": {"domain": [0.8, 1], "nice": false, "zero": false}, "axis": null},
            "text": {"field": "t"}
          }
        },
        {
          "data": {"values": [{"t": "TATAA", "x": 679.1, "y": 0.7565}]},
          "mark": {"type": "text", "fontSize": 38, "color": "#2a2a2a", "baseline": "alphabetic", "align": "center"},
          "encoding": {
            "x": {"field": "x", "type": "quantitative", "scale": {"domain": [0, 1440], "nice": false, "zero": false}, "axis": null},
            "y": {"field": "y", "type": "quantitative", "scale": {"domain": [0.8, 1], "nice": false, "zero": false}, "axis": null},
            "text": {"field": "t"}
          }
        }
      ]
    }
  ]
}
